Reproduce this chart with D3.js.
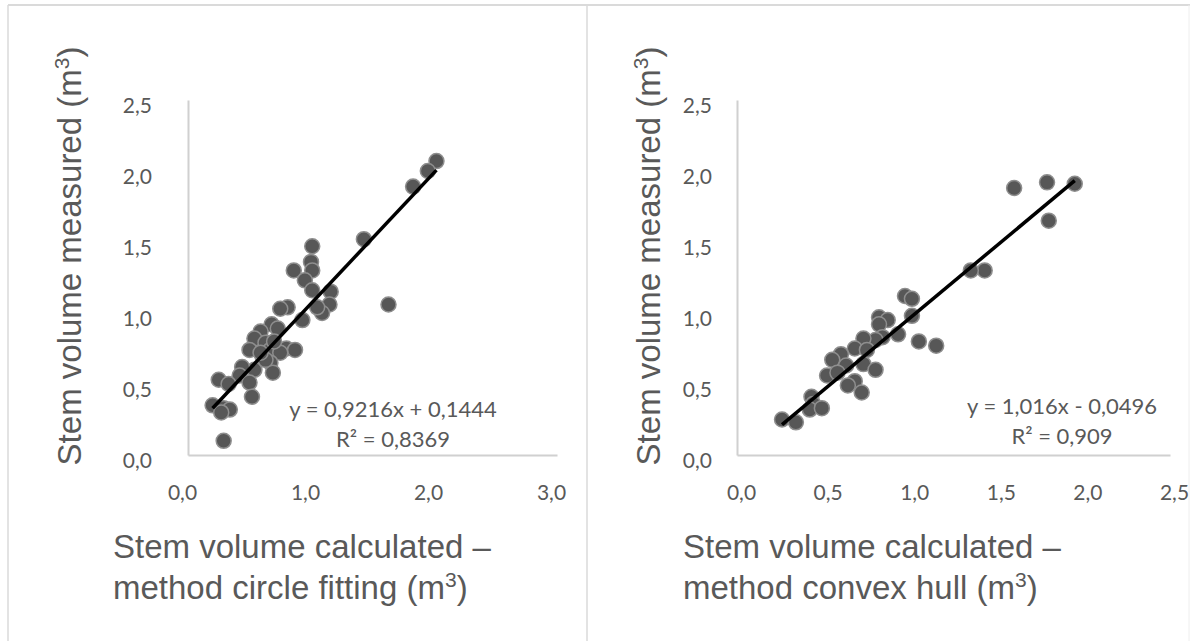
<!DOCTYPE html>
<html>
<head>
<meta charset="utf-8">
<script src="https://cdn.jsdelivr.net/npm/d3@7"></script>
<style>
body { margin: 0; background: #fff; }
.tick text { fill: #595959; font-family: Lato, sans-serif; font-size: 21px; }
.title { fill: #595959; font-family: "Liberation Sans", Arial, sans-serif; font-size: 33px; }
.eq { fill: #595959; font-family: Lato, sans-serif; font-size: 22px; }
</style>
</head>
<body>
<div id="chart"></div>
<script>
// circle fitting panel (left)
var circleX = [2.02, 1.95, 1.83, 1.43, 1.63, 1.01, 1.00, 1.01, 0.86, 0.95, 1.01, 1.16, 1.15, 1.09, 1.05,
	0.93, 0.81, 0.75, 0.68, 0.73, 0.59, 0.54, 0.50, 0.63, 0.67, 0.80, 0.87, 0.75, 0.61, 0.67,
	0.69, 0.54, 0.44, 0.42, 0.50, 0.25, 0.33, 0.52, 0.20, 0.29, 0.34, 0.27, 0.29, 0.63, 0.59, 0.70];
var circleY = [2.07, 2.00, 1.89, 1.52, 1.06, 1.47, 1.36, 1.30, 1.30, 1.23, 1.16, 1.15, 1.06, 1.00, 1.04,
	0.95, 1.04, 1.03, 0.92, 0.89, 0.87, 0.82, 0.74, 0.79, 0.74, 0.75, 0.74, 0.72, 0.68, 0.65,
	0.58, 0.60, 0.62, 0.56, 0.51, 0.53, 0.50, 0.41, 0.35, 0.33, 0.32, 0.30, 0.10, 0.67, 0.72, 0.80];
var circleFit = [0.9216, 0.1444];
var circleXTicks = [0, 1, 2, 3];
var circleYTicks = [0, 0.5, 1, 1.5, 2, 2.5];
var circleEq = ["y = 0,9216x + 0,1444", "R² = 0,8369"];
var circleXTitle = ["Stem volume calculated –", "method circle fitting (m"];

// convex hull panel (right)
var hullX = [1.95, 1.79, 1.60, 1.80, 1.43, 1.35, 0.97, 1.01, 1.01, 1.05, 1.15, 0.93, 0.82, 0.87, 0.82,
	0.84, 0.80, 0.73, 0.68, 0.75, 0.60, 0.55, 0.73, 0.80, 0.63, 0.52, 0.58, 0.68, 0.64, 0.72,
	0.43, 0.44, 0.42, 0.49, 0.26, 0.34];
var hullY = [1.91, 1.92, 1.88, 1.65, 1.30, 1.30, 1.12, 1.10, 0.98, 0.80, 0.77, 0.85, 0.97, 0.95, 0.92,
	0.83, 0.81, 0.82, 0.75, 0.74, 0.71, 0.67, 0.64, 0.60, 0.63, 0.56, 0.58, 0.52, 0.49, 0.44,
	0.41, 0.36, 0.32, 0.33, 0.25, 0.23];
var hullFit = [1.016, -0.0496];
var hullXTicks = [0, 0.5, 1, 1.5, 2, 2.5];
var hullYTicks = [0, 0.5, 1, 1.5, 2, 2.5];
var hullEq = ["y = 1,016x - 0,0496", "R² = 0,909"];
var hullXTitle = ["Stem volume calculated –", "method convex hull (m"];

var yTitle = "Stem volume measured (m";

var width = 1190, height = 641;

var svg = d3.select("#chart").append("svg")
	.attr("width", width)
	.attr("height", height)
	.style("display", "block");

// frame
svg.append("line").attr("x1", 8).attr("x2", 1190).attr("y1", 5).attr("y2", 5)
	.attr("stroke", "#dadada").attr("stroke-width", 2);
svg.append("line").attr("x1", 8).attr("x2", 8).attr("y1", 5).attr("y2", 641)
	.attr("stroke", "#dadada").attr("stroke-width", 1.5);
svg.append("line").attr("x1", 587).attr("x2", 587).attr("y1", 5).attr("y2", 641)
	.attr("stroke", "#dadada").attr("stroke-width", 1.5);
svg.append("line").attr("x1", 1189).attr("x2", 1189).attr("y1", 5).attr("y2", 641)
	.attr("stroke", "#eeeeee").attr("stroke-width", 1);

function fmt(d){ return d.toFixed(1).replace(".", ","); }

function addTitle(sel, text){
	sel.append("tspan").text(text);
	sel.append("tspan").attr("font-size", "21px").attr("dy", "-12").text("3");
	sel.append("tspan").attr("dy", "12").text(")");
}

function drawPanel(p){
	var x = d3.scaleLinear().domain([p.xTicks[0], p.xTicks[p.xTicks.length - 1]]).range(p.xRange);
	var y = d3.scaleLinear().domain([0, 2.5]).range([455, 100]);

	var g = svg.append("g");

	g.append("g")
		.attr("transform", "translate(0,455)")
		.call(d3.axisBottom(x).tickValues(p.xTicks).tickFormat(fmt).tickSize(0).tickSizeOuter(0).tickPadding(30))
		.call(function(a){
			a.select(".domain").attr("stroke", "#d0d0d0").attr("stroke-width", 2);
			a.selectAll("text").attr("dx", p.xLabelDx);
		});

	g.append("g")
		.attr("transform", "translate(" + p.xRange[0] + ",0)")
		.call(d3.axisLeft(y).tickValues(p.yTicks).tickFormat(fmt).tickSize(0).tickSizeOuter(0).tickPadding(p.yPad))
		.call(function(a){
			a.select(".domain").attr("stroke", "#d0d0d0").attr("stroke-width", 2);
			a.selectAll("text").attr("dy", "0.6em");
		});

	var pts = p.xs.map(function(d, i){ return [d, p.ys[i]]; });

	g.selectAll(".pt")
		.data(pts).enter()
		.append("circle")
		.attr("class", "pt")
		.attr("cx", function(d){ return x(d[0]); })
		.attr("cy", function(d){ return y(d[1]); })
		.attr("r", 7.5)
		.attr("fill", "#575757")
		.attr("stroke", "#8e8e8e")
		.attr("stroke-width", 1.5);

	var ext = d3.extent(p.xs);
	var fitLine = d3.line()
		.x(function(d){ return x(d); })
		.y(function(d){ return y(p.fit[0] * d + p.fit[1]); });

	g.append("path")
		.attr("d", fitLine(ext))
		.attr("fill", "none")
		.attr("stroke", "#000")
		.attr("stroke-width", 3.5);

	g.selectAll(".eq")
		.data(p.eq).enter()
		.append("text")
		.attr("class", "eq")
		.attr("x", p.eqX)
		.attr("y", function(d, i){ return p.eqY + i * 30; })
		.attr("text-anchor", "middle")
		.attr("dominant-baseline", "central")
		.text(function(d){ return d; });

	g.append("text")
		.attr("class", "title")
		.attr("text-anchor", "middle")
		.attr("transform", "translate(" + p.yTitleX + ",256) rotate(-90)")
		.call(addTitle, yTitle);

	g.append("text")
		.attr("class", "title")
		.attr("x", p.xTitleX)
		.attr("y", 558)
		.text(p.xTitle[0]);

	g.append("text")
		.attr("class", "title")
		.attr("x", p.xTitleX)
		.attr("y", 599)
		.call(addTitle, p.xTitle[1]);
}

drawPanel({
	xs: circleX, ys: circleY, fit: circleFit, xTicks: circleXTicks, yTicks: circleYTicks,
	eq: circleEq, xTitle: circleXTitle,
	xRange: [188, 557], yPad: 36, xLabelDx: -6,
	eqX: 393, eqY: 408, yTitleX: 81, xTitleX: 113
});

drawPanel({
	xs: hullX, ys: hullY, fit: hullFit, xTicks: hullXTicks, yTicks: hullYTicks,
	eq: hullEq, xTitle: hullXTitle,
	xRange: [737, 1170], yPad: 25, xLabelDx: 4,
	eqX: 1062, eqY: 405, yTitleX: 660, xTitleX: 683
});
</script>
</body>
</html>
